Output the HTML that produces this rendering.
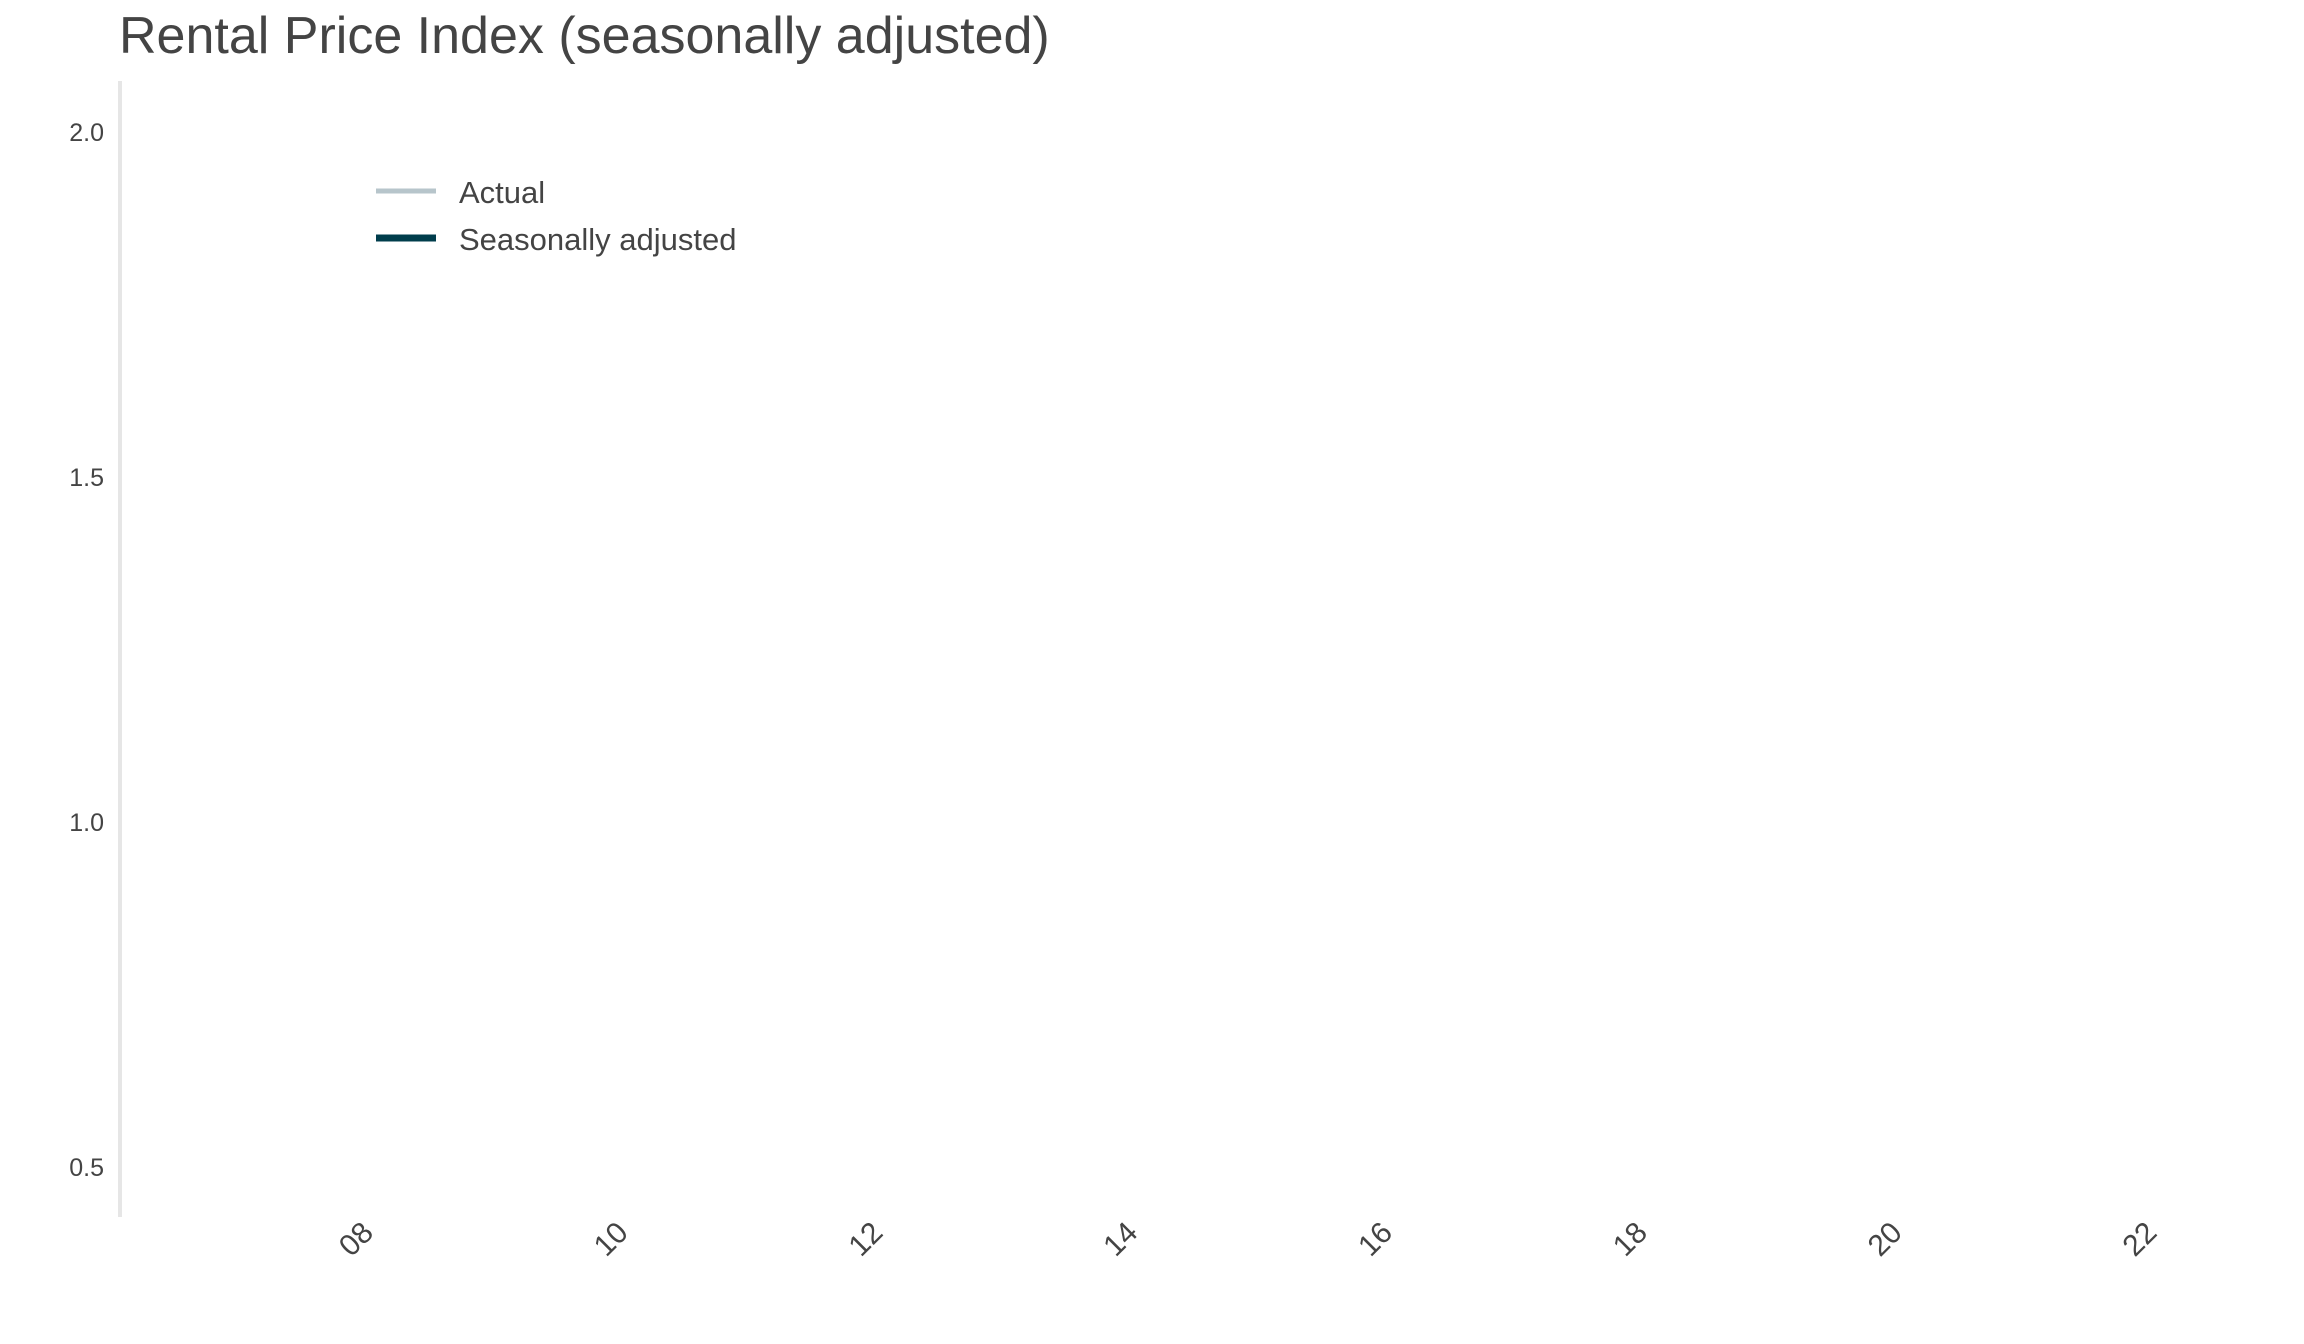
<!DOCTYPE html>
<html><head><meta charset="utf-8">
<style>
html,body{margin:0;padding:0;background:#fff;width:2304px;height:1344px;overflow:hidden;}
svg text{font-family:"Liberation Sans",Arial,sans-serif;fill:#444;}
</style></head>
<body>
<svg id="chart" width="2304" height="1344" viewBox="0 0 2304 1344">
  <text x="119" y="53" font-size="52">Rental Price Index (seasonally adjusted)</text>
  <line x1="120" y1="81" x2="120" y2="1217" stroke="#e6e6e6" stroke-width="4"/>
  <g id="yticks"></g>
  <g id="xticks"></g>
  <g id="series"></g>
  <g>
    <g>
      <line x1="376" y1="191" x2="436" y2="191" stroke="#b7c5cb" stroke-width="5"/>
      <text x="459" y="203" font-size="31">Actual</text>
    </g>
    <g>
      <line x1="376" y1="238" x2="436" y2="238" stroke="#003d4c" stroke-width="7"/>
      <text x="459" y="250" font-size="31">Seasonally adjusted</text>
    </g>
  </g>
</svg>
<script>
const yTickValues = [0.5, 1.0, 1.5, 2.0];
const xTickYears = [2008, 2010, 2012, 2014, 2016, 2018, 2020, 2022];
const seriesDates = [];
const actualValues = [];
const adjustedValues = [];

const NS = "http://www.w3.org/2000/svg";
function yScale(v){ return 1167 + (v - 0.5) * (132 - 1167) / 1.5; }
function xScale(yr){ return 356 + (yr - 2008) * (254.8 / 2); }

const yG = document.getElementById('yticks');
yTickValues.forEach(v => {
  const t = document.createElementNS(NS, 'text');
  t.setAttribute('x', 104);
  t.setAttribute('y', yScale(v) + 9);
  t.setAttribute('font-size', '25');
  t.setAttribute('text-anchor', 'end');
  t.textContent = v.toFixed(1);
  
  
  yG.appendChild(t);
});

const xG = document.getElementById('xticks');
xTickYears.forEach(yr => {
  const t = document.createElementNS(NS, 'text');
  const cx = xScale(yr), cy = 1239;
  t.setAttribute('x', cx);
  t.setAttribute('y', cy + 10);
  t.setAttribute('font-size', '30');
  t.setAttribute('text-anchor', 'middle');
  t.setAttribute('transform', 'rotate(-45 ' + cx + ' ' + cy + ')');
  t.textContent = String(yr % 100).padStart(2, '0');
  
  
  xG.appendChild(t);
});

const sG = document.getElementById('series');
function drawLine(vals, color, w, name){
  if (!vals.length) return;
  const d = vals.map((v, i) => (i ? 'L' : 'M') + xScale(seriesDates[i]) + ',' + yScale(v)).join(' ');
  const p = document.createElementNS(NS, 'path');
  p.setAttribute('d', d);
  p.setAttribute('fill', 'none');
  p.setAttribute('stroke', color);
  p.setAttribute('stroke-width', w);
  
  
  sG.appendChild(p);
}
drawLine(actualValues, '#b7c5cb', 5, 'actual-line');
drawLine(adjustedValues, '#003d4c', 7, 'seasonally-adjusted-line');
</script>
</body></html>
